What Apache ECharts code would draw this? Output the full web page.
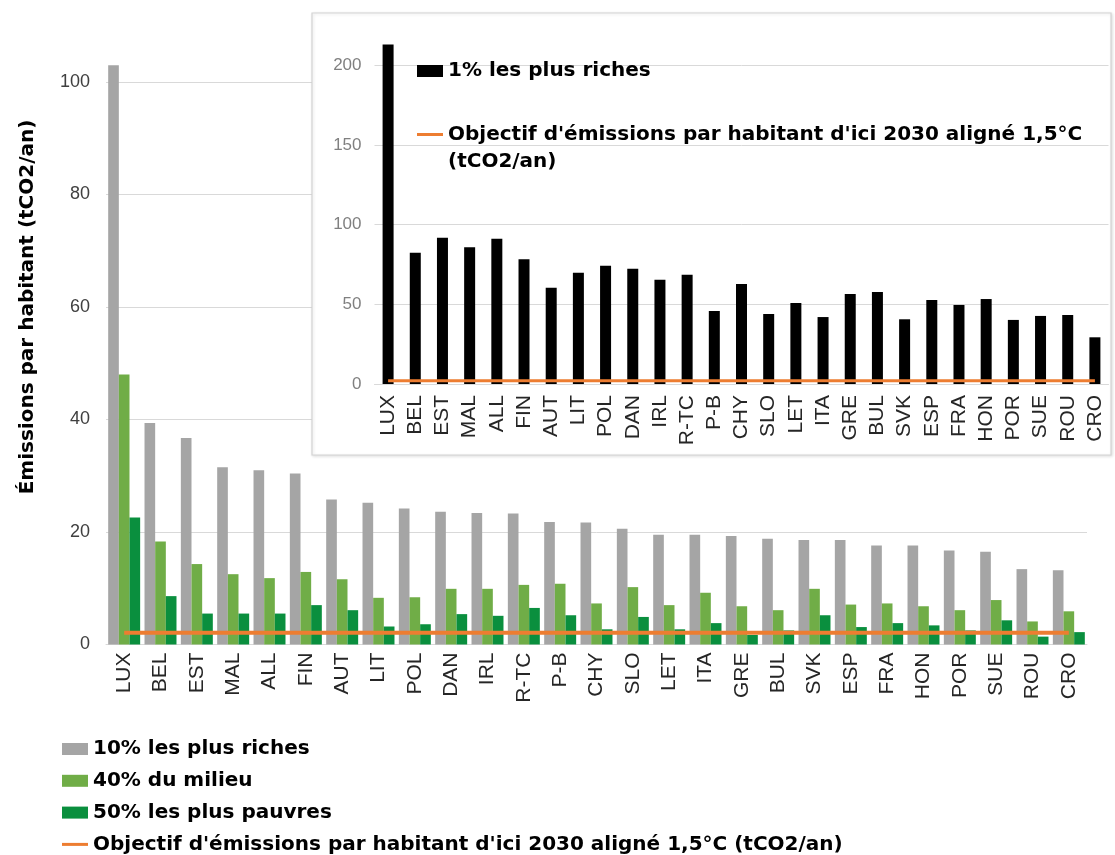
<!DOCTYPE html>
<html>
<head>
<meta charset="utf-8">
<script src="https://cdn.jsdelivr.net/npm/echarts@6/dist/echarts.min.js"></script>
<style>
html,body{margin:0;padding:0;background:#fff;}
#chart{width:1115px;height:855px;}
</style>
</head>
<body>
<div id="chart"></div>
<script>
const categories = ['LUX','BEL','EST','MAL','ALL','FIN','AUT','LIT','POL','DAN','IRL','R-TC','P-B','CHY','SLO','LET','ITA','GRE','BUL','SVK','ESP','FRA','HON','POR','SUE','ROU','CRO'];
const richest10 = [103.0, 39.4, 36.7, 31.5, 31.0, 30.4, 25.8, 25.2, 24.2, 23.6, 23.4, 23.3, 21.8, 21.7, 20.6, 19.5, 19.5, 19.3, 18.8, 18.6, 18.6, 17.6, 17.6, 16.7, 16.5, 13.4, 13.2];
const middle40 = [48.0, 18.3, 14.3, 12.5, 11.8, 12.9, 11.6, 8.3, 8.4, 9.9, 9.9, 10.6, 10.8, 7.3, 10.2, 7.0, 9.2, 6.8, 6.1, 9.9, 7.1, 7.3, 6.8, 6.1, 7.9, 4.1, 5.9];
const poorest50 = [22.6, 8.6, 5.5, 5.5, 5.5, 7.0, 6.1, 3.2, 3.6, 5.4, 5.1, 6.5, 5.2, 2.7, 4.9, 2.7, 3.8, 1.7, 2.5, 5.2, 3.1, 3.8, 3.4, 2.5, 4.3, 1.4, 2.2];
const richest1 = [213, 82.4, 91.8, 85.8, 91.2, 78.2, 60.4, 69.8, 74.2, 72.3, 65.4, 68.6, 45.8, 62.7, 43.9, 50.8, 42.0, 56.5, 57.7, 40.6, 52.7, 49.6, 53.3, 40.2, 42.7, 43.3, 29.3];
const target2030 = [2.1, 2.1, 2.1, 2.1, 2.1, 2.1, 2.1, 2.1, 2.1, 2.1, 2.1, 2.1, 2.1, 2.1, 2.1, 2.1, 2.1, 2.1, 2.1, 2.1, 2.1, 2.1, 2.1, 2.1, 2.1, 2.1, 2.1];
const mainYTicks = [0, 20, 40, 60, 80, 100, 120];
const insetYTicks = [0, 50, 100, 150, 200, 250];

const nameR10 = '10% les plus riches';
const nameM40 = '40% du milieu';
const nameP50 = '50% les plus pauvres';
const nameR1 = '1% les plus riches';
const nameTarget = "Objectif d'émissions par habitant d'ici 2030 aligné 1,5°C (tCO2/an)";

const FONT = 'DejaVu Sans';
const LAB = 'Liberation Sans, Arial, sans-serif';
const LINE_ICON = 'path://M0,0H26V3H0Z';

const chart = echarts.init(document.getElementById('chart'));
chart.setOption({
  backgroundColor: '#fff',
  animation: false,
  graphic: {
    elements: [{
      type: 'rect', z: 1,
      shape: { x: 312, y: 13, width: 799, height: 442 },
      style: { fill: '#fff', stroke: '#d4d4d4', lineWidth: 1.2,
               shadowBlur: 3, shadowColor: 'rgba(0,0,0,0.12)', shadowOffsetX: 1, shadowOffsetY: 1 }
    }]
  },
  legend: [
    {
      orient: 'vertical', left: 62, top: 739, padding: 0,
      itemWidth: 26, itemHeight: 12, itemGap: 11.8,
      selectedMode: false, symbolKeepAspect: true,
      textStyle: { fontFamily: FONT, fontWeight: 'bold', fontSize: 20, color: '#000' },
      data: [
        { name: nameR10, icon: 'rect' },
        { name: nameM40, icon: 'rect' },
        { name: nameP50, icon: 'rect' },
        { name: nameTarget, icon: LINE_ICON }
      ]
    },
    {
      orient: 'vertical', left: 417, top: 61, z: 6, padding: 0,
      itemWidth: 26, itemHeight: 12,
      selectedMode: false,
      textStyle: { fontFamily: FONT, fontWeight: 'bold', fontSize: 20, color: '#000' },
      data: [{ name: nameR1, icon: 'rect' }]
    },
    {
      orient: 'vertical', left: 417, top: 94, z: 6, padding: 0,
      itemWidth: 26, itemHeight: 12,
      selectedMode: false, symbolKeepAspect: true,
      formatter: function (n) { return '\n' + n.replace(' (tCO2', '\n(tCO2'); },
      textStyle: { fontFamily: FONT, fontWeight: 'bold', fontSize: 20, color: '#000', lineHeight: 27 },
      data: [{ name: nameTarget, icon: LINE_ICON }]
    }
  ],
  grid: [
    { left: 106, right: 28, top: -30.5, bottom: 210.5, outerBoundsMode: 'none' },
    { left: 374.5, right: 6.5, top: -14.5, bottom: 471, outerBoundsMode: 'none', z: 3 }
  ],
  xAxis: [
    {
      type: 'category', gridIndex: 0, data: categories,
      axisLine: { lineStyle: { color: '#d9d9d9', width: 1 } },
      axisTick: { show: false },
      axisLabel: { interval: 0, rotate: 90, margin: 8, fontFamily: LAB, fontSize: 21, color: '#262626' }
    },
    {
      type: 'category', gridIndex: 1, data: categories, z: 3,
      axisLine: { lineStyle: { color: '#d9d9d9', width: 1 } },
      axisTick: { show: false },
      axisLabel: { interval: 0, rotate: 90, margin: 11, fontFamily: LAB, fontSize: 21, color: '#262626' }
    }
  ],
  yAxis: [
    {
      type: 'value', gridIndex: 0,
      min: mainYTicks[0], max: mainYTicks[mainYTicks.length - 1], interval: mainYTicks[1] - mainYTicks[0],
      name: 'Émissions par habitant (tCO2/an)',
      nameLocation: 'middle', nameGap: 68,
      nameTextStyle: { fontFamily: FONT, fontWeight: 'bold', fontSize: 20, color: '#000' },
      axisLine: { show: false }, axisTick: { show: false },
      axisLabel: { margin: 16, fontFamily: LAB, fontSize: 18, color: '#404040' },
      splitLine: { lineStyle: { color: '#d9d9d9', width: 1 } }
    },
    {
      type: 'value', gridIndex: 1, z: 3,
      min: insetYTicks[0], max: insetYTicks[insetYTicks.length - 1], interval: insetYTicks[1] - insetYTicks[0],
      axisLine: { show: false }, axisTick: { show: false },
      axisLabel: { margin: 13, fontFamily: LAB, fontSize: 17, color: '#808080' },
      splitLine: { lineStyle: { color: '#d9d9d9', width: 1 } }
    }
  ],
  series: [
    { name: nameR10, type: 'bar', xAxisIndex: 0, yAxisIndex: 0, data: richest10,
      barGap: '0%', barCategoryGap: '12%', itemStyle: { color: '#a5a5a5' } },
    { name: nameM40, type: 'bar', xAxisIndex: 0, yAxisIndex: 0, data: middle40,
      barGap: '0%', barCategoryGap: '12%', itemStyle: { color: '#70ad47' } },
    { name: nameP50, type: 'bar', xAxisIndex: 0, yAxisIndex: 0, data: poorest50,
      barGap: '0%', barCategoryGap: '12%', itemStyle: { color: '#0a8f3e' } },
    { name: nameTarget, type: 'line', xAxisIndex: 0, yAxisIndex: 0, data: target2030,
      symbol: 'none', z: 3, lineStyle: { color: '#ed7d31', width: 4 }, itemStyle: { color: '#ed7d31' } },
    { name: nameR1, type: 'bar', xAxisIndex: 1, yAxisIndex: 1, data: richest1, z: 4,
      barWidth: 11, itemStyle: { color: '#000' } },
    { name: nameTarget, type: 'line', xAxisIndex: 1, yAxisIndex: 1, data: target2030, z: 5,
      symbol: 'none', lineStyle: { color: '#ed7d31', width: 3 }, itemStyle: { color: '#ed7d31' } }
  ]
});
</script>
</body>
</html>
